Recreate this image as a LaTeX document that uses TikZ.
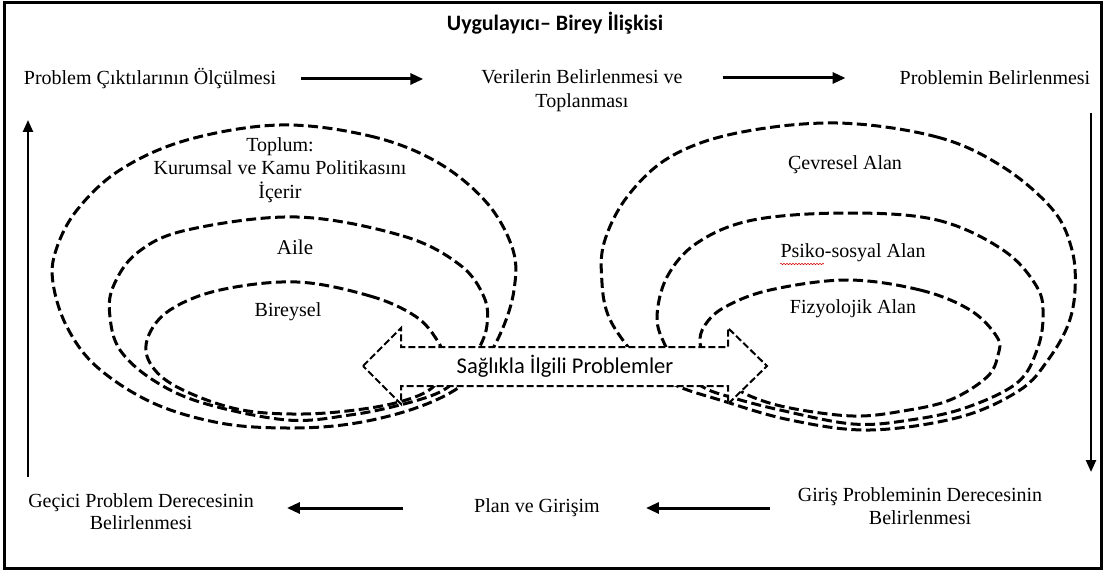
\documentclass[tikz,border=0pt]{standalone}
\usepackage{fontspec}
\setmainfont{Liberation Serif}
\newfontfamily\calibri{Carlito}
\usetikzlibrary{arrows.meta,decorations.pathmorphing}
\begin{document}
\begin{tikzpicture}[x=1pt,y=-1pt,
  txt/.style={inner sep=0pt, font=\fontsize{20}{24}\selectfont, align=center},
  flow/.style={line width=3pt, -{Triangle[length=13pt,width=11pt]}},
  vflow/.style={line width=2.4pt, -{Triangle[length=12pt,width=10pt]}},
  ring/.style={line width=3pt, dash pattern=on 10pt off 4.5pt},
  harrow/.style={line width=2pt, dash pattern=on 7pt off 3pt, fill=white}]
\useasboundingbox (0,0) rectangle (1105,572);
\draw[line width=3pt] (4,3) rectangle (1101,568);

% title
\node[inner sep=0pt, font=\calibri\bfseries\fontsize{22}{26}\selectfont] (title) at (555,23) {Uygulayıcı– Birey İlişkisi};

% cycle texts
\node[txt] (n1) at (150,79) {Problem Çıktılarının Ölçülmesi};
\node[txt] (n2) at (582,90.5) {Verilerin Belirlenmesi ve\\Toplanması};
\node[txt] (n3) at (995,78) {Problemin Belirlenmesi};
\node[txt, font=\fontsize{20}{23}\selectfont] (n4) at (920,506.5) {Giriş Probleminin Derecesinin\\Belirlenmesi};
\node[txt] (n5) at (537,508) {Plan ve Girişim};
\node[txt, font=\fontsize{20}{22}\selectfont] (n6) at (141,512) {Geçici Problem Derecesinin\\Belirlenmesi};

\coordinate (c1) at (1091,113);
\coordinate (c2) at (1091,472);
\coordinate (c3) at (28,477);
\coordinate (c4) at (28,120);

\draw[flow, shorten <=25pt, shorten >=58pt] (n1.east) -- (n1.east -| n2.west);
\draw[flow, shorten <=40pt, shorten >=54pt] (n2.east |- n3.west) -- (n3.west);
\draw[vflow] (c1) -- (c2);
\draw[flow, shorten <=28pt, shorten >=46pt] (n4.west |- n5.east) -- (n5.east);
\draw[flow, shorten <=71pt, shorten >=33pt] (n5.west) -- (n6.east |- n5.west);
\draw[vflow] (c3) -- (c4);

% left rings
\draw[ring] plot[smooth cycle, tension=0.6] coordinates {(280,125) (370,136) (437,162) (487,203) (513,250) (514,290) (502,330) (482,365) (455,390) (410,410) (350,424) (287,428) (220,423) (153,403) (97,367) (67,327) (53,283) (56,250) (77,210) (120,170) (187,140)};
\draw[ring] plot[smooth cycle, tension=0.6] coordinates {(297,217) (403,236) (460,265) (484,297) (487,325) (478,350) (460,375) (440,392) (400,405) (350,415) (287,420) (203,403) (153,380) (120,350) (110,317) (113,287) (137,253) (187,230)};
\draw[ring] plot[smooth cycle, tension=0.6] coordinates {(297,282) (370,296) (415,316) (437,340) (445,362) (437,383) (415,397) (370,408) (303,414) (237,409) (177,387) (150,363) (148,337) (170,310) (220,290)};

% right rings
\draw[ring] plot[smooth cycle, tension=0.6] coordinates {(837,123) (937,137) (1003,167) (1053,210) (1072,250) (1075,290) (1068,325) (1048,360) (1020,390) (960,417) (870,430) (790,420) (720,400) (675,385) (645,365) (625,343) (608,315) (602,283) (604,243) (627,197) (670,157) (737,133)};
\draw[ring] plot[smooth cycle, tension=0.6] coordinates {(847,213) (937,220) (1003,250) (1037,287) (1043,317) (1037,350) (1017,383) (965,408) (910,420) (853,424) (780,410) (730,397) (703,387) (680,368) (665,345) (657,317) (667,277) (697,243) (753,220)};
\draw[ring] plot[smooth cycle, tension=0.6] coordinates {(847,280) (920,290) (970,310) (997,337) (998,355) (987,377) (950,400) (903,411) (853,416) (790,408) (750,396) (725,380) (708,362) (700,343) (705,325) (725,307) (770,290)};

% ring labels
\node[txt, font=\fontsize{20}{23.5}\selectfont] (toplum) at (280,170) {Toplum:\\Kurumsal ve Kamu Politikasını\\İçerir};
\node[txt, font=\fontsize{21}{24}\selectfont] (aile) at (295,247) {Aile};
\node[txt] (bireysel) at (288,312) {Bireysel};
\node[txt] (cevre) at (845,165) {Çevresel Alan};
\node[txt] (psiko) at (853,253) {Psiko-sosyal Alan};
\node[txt] (fizyo) at (853,309) {Fizyolojik Alan};
\draw[red!85!black, line width=0.5pt, decorate, decoration={snake, amplitude=0.7pt, segment length=3pt}] (780,264) -- (824,264);

% central double arrow
\draw[harrow] (363,366) -- (401,328) -- (401,347) -- (728,347) -- (728,328) -- (767,366) -- (728,404) -- (728,386) -- (401,386) -- (401,404) -- cycle;
\node[inner sep=0pt, font=\calibri\fontsize{22.5}{26}\selectfont] (saglik) at (565,366) {Sağlıkla İlgili Problemler};
\end{tikzpicture}
\end{document}
